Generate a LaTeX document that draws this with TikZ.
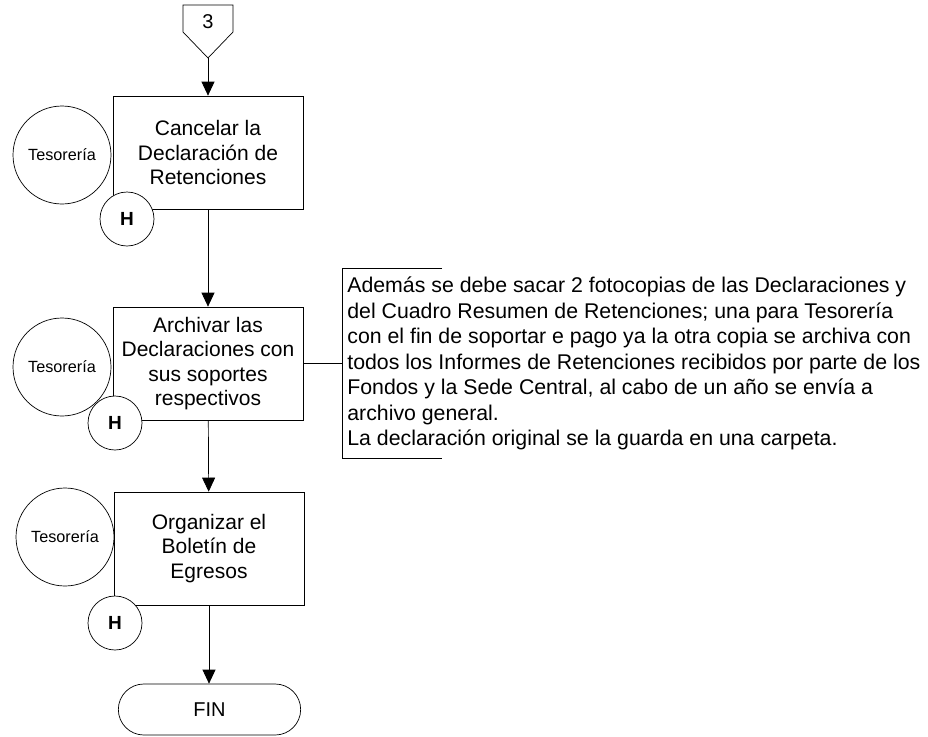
\documentclass[tikz,border=0pt]{standalone}
\usepackage{fontspec}
\setmainfont{Liberation Sans}
\usetikzlibrary{shapes,arrows.meta,positioning,calc}

\begin{document}
\begin{tikzpicture}[x=1pt,y=-1pt,line width=0.7pt,
  paso/.style={rectangle, draw, minimum width=190pt, minimum height=113pt, align=center, font=\fontsize{21}{24.5}\selectfont},
  resp/.style={circle, draw, minimum size=98pt, inner sep=0pt, font=\fontsize{16.2}{19}\selectfont},
  hcirc/.style={circle, draw, fill=white, minimum size=54pt, inner sep=0pt, font=\fontsize{19}{22}\selectfont\bfseries},
  flecha/.style={-{Triangle[length=14pt,width=13pt]}}]
\useasboundingbox (0,0) rectangle (928,736);

% conector de pagina
\draw (183,5) -- (233,5) -- (233,32) -- (208,58) -- (183,32) -- cycle;
\node[font=\fontsize{20}{24}\selectfont] (tres) at (208,22) {3};
\coordinate (tresfin) at (208,58);

% pasos
\node[paso] (cancelar) at (208,152.5) {Cancelar la\\Declaración de\\Retenciones};
\node[paso] (archivar) at (208,363.5) {Archivar las\\Declaraciones con\\sus soportes\\respectivos};
\node[paso] (organizar) at (209,548.5) {Organizar el\\Boletín de\\Egresos};
\node[rounded rectangle, draw, minimum width=189pt, minimum height=51pt, font=\fontsize{20}{24}\selectfont] (fin) at (209.5,709.5) {FIN};

% responsables
\node[resp] (tes1) at (62,155) {Tesorería};
\node[resp] (tes2) at (62,367) {Tesorería};
\node[resp] (tes3) at (65,537) {Tesorería};
\node[hcirc] (h1) at (127,219) {H};
\node[hcirc] (h2) at (115,423) {H};
\node[hcirc] (h3) at (115,623) {H};

% flujo
\draw[flecha] (tresfin) -- (cancelar);
\draw[flecha] (cancelar) -- (archivar);
\draw[flecha] (archivar) -- (organizar);
\draw[flecha] (organizar.south) -- (organizar.south |- fin.north);

% nota
\node[anchor=west, align=left, inner sep=5pt, minimum height=189pt, font=\fontsize{21.3}{25.5}\selectfont] (nota) at (342,363.5)
  {Además se debe sacar 2 fotocopias de las Declaraciones y\\
   del Cuadro Resumen de Retenciones; una para Tesorería\\
   con el fin de soportar e pago ya la otra copia se archiva con\\
   todos los Informes de Retenciones recibidos por parte de los\\
   Fondos y la Sede Central, al cabo de un año se envía a\\
   archivo general.\\
   La declaración original se la guarda en una carpeta.};
\draw ([xshift=100pt]nota.north west) -- (nota.north west) -- (nota.south west) -- ([xshift=100pt]nota.south west);
\draw (archivar.east) -- (archivar.east -| nota.west);
\end{tikzpicture}
\end{document}
